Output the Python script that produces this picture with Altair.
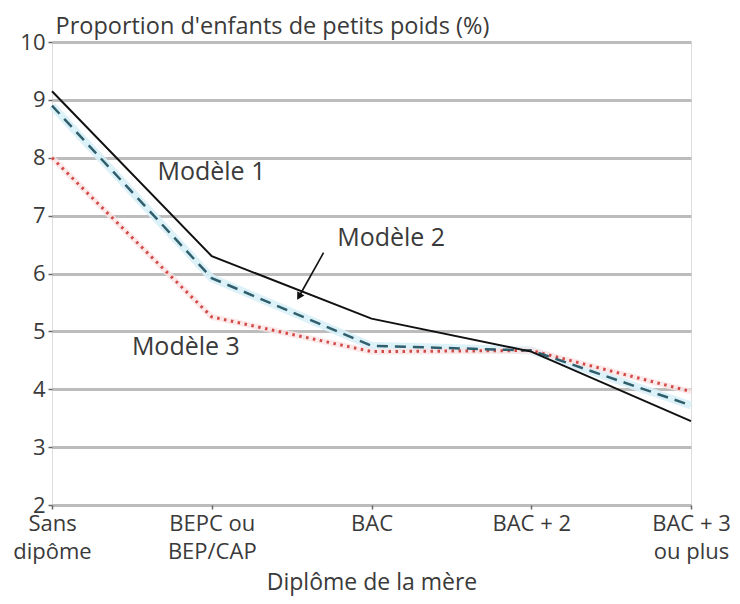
import altair as alt
import pandas as pd

categories = ["Sans|dipôme", "BEPC ou|BEP/CAP", "BAC", "BAC + 2", "BAC + 3|ou plus"]
x_index = [0, 1, 2, 3, 4]
modele1 = [9.15, 6.3, 5.22, 4.65, 3.45]
modele2 = [8.9, 5.92, 4.75, 4.67, 3.72]
modele3 = [8.0, 5.25, 4.65, 4.67, 3.96]

label_names = ["Modèle 1", "Modèle 2", "Modèle 3"]
label_x = [0.66, 1.785, 0.50]
label_y = [7.75, 6.62, 4.73]

arrow_x = [1.70, 1.55]
arrow_y = [6.36, 5.62]

FONT = "Open Sans"
TXT = "#3a3a3a"

rows = []
for name, vals in zip(label_names, [modele1, modele2, modele3]):
    for xi, v in zip(x_index, vals):
        rows.append({"x": xi, "y": v, "model": name})
df = pd.DataFrame(rows)

lab_df = pd.DataFrame({"x": label_x, "y": label_y, "text": label_names})
arr_df = pd.DataFrame({"x": arrow_x, "y": arrow_y, "order": [0, 1]})
head_df = pd.DataFrame({"x": [arrow_x[1]], "y": [arrow_y[1]]})

expr_list = "[" + ",".join("'" + c + "'" for c in categories) + "]"
x_scale = alt.Scale(domain=[0, 4], nice=False, zero=False)
y_scale = alt.Scale(domain=[2, 10], nice=False, zero=False)

x_enc = alt.X(
    "x:Q", scale=x_scale,
    axis=alt.Axis(
        values=x_index, labelExpr="split(" + expr_list + "[datum.value], '|')",
        title="Diplôme de la mère", grid=False, domain=False,
        tickColor="#666", tickSize=4, tickWidth=1.5,
        labelFont=FONT, labelFontSize=22, labelColor=TXT, labelPadding=4,
        labelLineHeight=28, labelFlush=False, labelOverlap=False,
        titleFont=FONT, titleFontSize=23, titleColor=TXT, titleFontWeight="normal",
        titleY=84, titleBaseline="alphabetic",
    ),
)
y_enc = alt.Y(
    "y:Q", scale=y_scale,
    axis=alt.Axis(
        values=[2, 3, 4, 5, 6, 7, 8, 9, 10], format="d",
        grid=True, gridColor="#bcbcbc", gridWidth=3,
        domain=False, tickColor="#666", tickSize=4, tickWidth=1.5,
        labelFont=FONT, labelFontSize=22, labelColor=TXT, labelPadding=3,
        labelOverlap=False,
        title="Proportion d'enfants de petits poids (%)", titleAngle=0,
        titleAlign="left", titleBaseline="alphabetic", titleX=3, titleY=-9,
        titleFont=FONT, titleFontSize=23.5, titleColor=TXT, titleFontWeight="normal",
    ),
)

base = alt.Chart(df)

glow2 = base.transform_filter(alt.datum.model == "Modèle 2").mark_line(
    color="#d9f0f8", strokeWidth=8, opacity=0.9
).encode(x=x_enc, y=y_enc)
glow3 = base.transform_filter(alt.datum.model == "Modèle 3").mark_line(
    color="#fbe3e3", strokeWidth=6, opacity=0.8
).encode(x="x:Q", y="y:Q")

line3 = base.transform_filter(alt.datum.model == "Modèle 3").mark_line(
    color="#d24a48", strokeWidth=3, strokeDash=[2.5, 4.5]
).encode(x="x:Q", y="y:Q")
line2 = base.transform_filter(alt.datum.model == "Modèle 2").mark_line(
    color="#2f5e6c", strokeWidth=2.5, strokeDash=[11, 7]
).encode(x="x:Q", y="y:Q")
line1 = base.transform_filter(alt.datum.model == "Modèle 1").mark_line(
    color="#111", strokeWidth=2
).encode(x="x:Q", y="y:Q")

labels = alt.Chart(lab_df).mark_text(
    font=FONT, fontSize=25, color=TXT, align="left", baseline="middle"
).encode(x="x:Q", y="y:Q", text="text:N")

arrow = alt.Chart(arr_df).mark_line(color="#111", strokeWidth=1.6).encode(
    x="x:Q", y="y:Q", order="order:Q"
)
head = alt.Chart(head_df).mark_point(
    shape="triangle", filled=True, color="#111", size=70, angle=211, opacity=1
).encode(x="x:Q", y="y:Q")

chart = alt.layer(glow2, glow3, line3, line2, line1, arrow, head, labels).properties(
    width=639, height=463,
    autosize=alt.AutoSizeParams(type="none"),
    padding={"left": 44, "top": 34, "right": 41, "bottom": 91},
).configure_view(stroke="#555", strokeWidth=3).configure(background="white")

chart.save("out.html", embed_options={"renderer": "svg", "actions": False})
